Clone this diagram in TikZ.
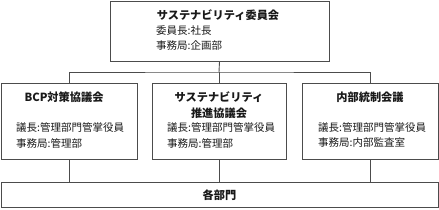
\documentclass[tikz,border=0pt]{standalone}
\usepackage{fontspec}
\setmainfont{Noto Sans CJK JP}
\begin{document}
\begin{tikzpicture}[x=1pt,y=-1pt,
  box/.style={draw=black!70,line width=0.9pt,inner sep=0pt},
  ttl/.style={font=\fontsize{11.2}{13}\selectfont\bfseries,inner sep=0pt,text=black!90},
  txt/.style={font=\fontsize{10.5}{12}\selectfont,inner sep=0pt,anchor=west,text=black!90},
  conn/.style={draw=black!70,line width=0.9pt}]
\useasboundingbox (0,0) rectangle (439,209);
% boxes
\node[box,minimum width=219pt,minimum height=60pt] (top) at (219.5,31) {};
\node[box,minimum width=136pt,minimum height=76pt] (lft) at (69,121) {};
\node[box,minimum width=134pt,minimum height=76pt] (mid) at (219,121) {};
\node[box,minimum width=136pt,minimum height=76pt] (rgt) at (370,121) {};
\node[box,minimum width=437pt,minimum height=25pt] (all) at (219.5,194.5) {};
% texts
\node[ttl] (t1) at (218,15) {サステナビリティ委員会};
\node[txt] (t1a) at (156,31) {委員長:社長};
\node[txt] (t1b) at (156,46) {事務局:企画部};
\node[ttl] (t2) at (64,97.5) {BCP対策協議会};
\node[txt] (t2a) at (16,128) {議長:管理部門管掌役員};
\node[txt] (t2b) at (16,143) {事務局:管理部};
\node[ttl] (t3) at (219,97.5) {サステナビリティ};
\node[ttl] (t3x) at (219,113) {推進協議会};
\node[txt] (t3a) at (167,128) {議長:管理部門管掌役員};
\node[txt] (t3b) at (167,143) {事務局:管理部};
\node[ttl] (t4) at (370,97.5) {内部統制会議};
\node[txt] (t4a) at (318,128) {議長:管理部門管掌役員};
\node[txt] (t4b) at (318,143) {事務局:内部監査室};
\node[ttl] (t5) at (219.5,195) {各部門};
% connectors
\coordinate (j) at (219,72);
\draw[conn] (top.south) -- (j);
\draw[conn] (lft.north) |- (j) -| (rgt.north);
\draw[conn] (j) -- (mid.north);
\draw[conn] (lft.south) -- (lft.south |- all.north);
\draw[conn] (mid.south) -- (mid.south |- all.north);
\draw[conn] (rgt.south) -- (rgt.south |- all.north);
\end{tikzpicture}
\end{document}
